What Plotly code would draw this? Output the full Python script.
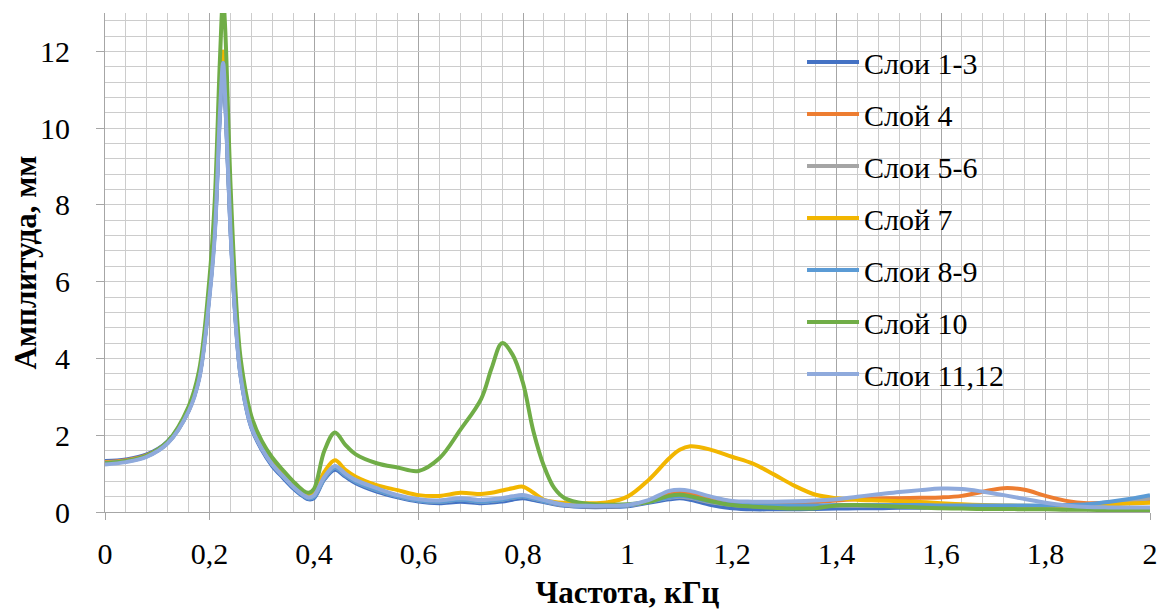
import plotly.graph_objects as go

freq = [0, 0.04, 0.08, 0.12, 0.16, 0.18, 0.2, 0.21, 0.22, 0.226, 0.23, 0.24, 0.25, 0.26,
        0.28, 0.3, 0.32, 0.34, 0.36, 0.38, 0.39, 0.4,
        0.42, 0.44, 0.46, 0.48, 0.52, 0.56, 0.6, 0.64, 0.68, 0.72, 0.74, 0.76, 0.78, 0.8,
        0.82, 0.84, 0.86, 0.88, 0.92, 0.96, 1.0, 1.04,
        1.08, 1.1, 1.12, 1.16, 1.2, 1.24, 1.28, 1.32, 1.36, 1.4, 1.44, 1.48, 1.52, 1.56,
        1.6, 1.64, 1.68, 1.72, 1.76, 1.8, 1.84, 1.88, 1.92, 1.96, 2.0]

s_1_3 = [1.33, 1.37, 1.5, 1.84, 2.66, 3.5, 5.7, 7.3, 10.4, 11.6, 10.8, 7.4, 5.0, 3.5, 2.2, 1.62, 1.2, 0.9, 0.62, 0.4, 0.33, 0.36,
         0.85, 1.1, 0.92, 0.75, 0.53, 0.38, 0.27, 0.23, 0.27, 0.23, 0.25, 0.27, 0.32, 0.36, 0.31, 0.26, 0.2, 0.16, 0.13, 0.13, 0.15, 0.24,
         0.33, 0.36, 0.32, 0.18, 0.1, 0.07, 0.07, 0.07, 0.08, 0.09, 0.1, 0.1, 0.11, 0.11, 0.12, 0.12, 0.12, 0.13, 0.14, 0.15, 0.17, 0.2, 0.25, 0.3, 0.35]
s_4 = [1.3, 1.35, 1.48, 1.82, 2.65, 3.5, 5.75, 7.4, 10.6, 11.8, 11.0, 7.6, 5.1, 3.6, 2.3, 1.7, 1.27, 0.97, 0.68, 0.45, 0.38, 0.42,
       0.9, 1.18, 0.98, 0.8, 0.58, 0.42, 0.31, 0.28, 0.33, 0.28, 0.3, 0.33, 0.38, 0.42, 0.36, 0.29, 0.22, 0.18, 0.15, 0.15, 0.17, 0.28,
       0.46, 0.5, 0.47, 0.36, 0.27, 0.24, 0.23, 0.24, 0.26, 0.3, 0.33, 0.35, 0.36, 0.37, 0.38, 0.42, 0.53, 0.62, 0.58, 0.42, 0.29, 0.23, 0.24, 0.27, 0.31]
s_5_6 = [1.28, 1.33, 1.46, 1.8, 2.64, 3.5, 5.75, 7.4, 10.6, 11.7, 10.9, 7.5, 5.05, 3.55, 2.25, 1.67, 1.25, 0.95, 0.66, 0.43, 0.36, 0.4,
         0.88, 1.15, 0.96, 0.79, 0.57, 0.41, 0.3, 0.27, 0.32, 0.27, 0.29, 0.32, 0.37, 0.41, 0.35, 0.28, 0.22, 0.18, 0.15, 0.15, 0.17, 0.27,
         0.37, 0.4, 0.37, 0.25, 0.18, 0.16, 0.15, 0.15, 0.15, 0.16, 0.16, 0.16, 0.16, 0.16, 0.15, 0.15, 0.15, 0.15, 0.15, 0.15, 0.16, 0.18, 0.22, 0.28, 0.35]
s_7 = [1.28, 1.33, 1.46, 1.81, 2.66, 3.55, 5.8, 7.5, 10.8, 12.0, 11.3, 7.9, 5.3, 3.7, 2.38, 1.76, 1.33, 1.03, 0.74, 0.5, 0.45, 0.5,
       1.05, 1.35, 1.1, 0.92, 0.7, 0.57, 0.44, 0.42, 0.5, 0.47, 0.5, 0.56, 0.62, 0.66, 0.5, 0.32, 0.26, 0.24, 0.23, 0.25, 0.4, 0.83,
       1.4, 1.62, 1.71, 1.62, 1.44, 1.26, 0.98, 0.68, 0.45, 0.36, 0.32, 0.3, 0.28, 0.26, 0.23, 0.2, 0.18, 0.17, 0.16, 0.16, 0.17, 0.18, 0.2, 0.22, 0.24]
s_8_9 = [1.27, 1.32, 1.45, 1.8, 2.64, 3.5, 5.7, 7.35, 10.5, 11.7, 10.9, 7.5, 5.05, 3.55, 2.25, 1.67, 1.24, 0.94, 0.65, 0.42, 0.35, 0.39,
         0.88, 1.15, 0.96, 0.79, 0.57, 0.41, 0.3, 0.27, 0.32, 0.27, 0.29, 0.32, 0.37, 0.41, 0.35, 0.28, 0.22, 0.18, 0.15, 0.15, 0.17, 0.26,
         0.38, 0.42, 0.39, 0.27, 0.2, 0.18, 0.17, 0.17, 0.17, 0.18, 0.18, 0.18, 0.18, 0.18, 0.17, 0.17, 0.17, 0.17, 0.17, 0.17, 0.18, 0.2, 0.26, 0.34, 0.44]
s_10 = [1.27, 1.33, 1.47, 1.84, 2.75, 3.68, 6.1, 8.1, 11.8, 13.4, 12.6, 8.6, 5.7, 3.95, 2.5, 1.85, 1.42, 1.1, 0.8, 0.55, 0.5, 0.6,
        1.6, 2.07, 1.75, 1.5, 1.27, 1.16, 1.07, 1.4, 2.14, 2.95, 3.75, 4.4, 4.1, 3.36, 2.1, 1.2, 0.62, 0.36, 0.22, 0.19, 0.2, 0.26,
        0.42, 0.45, 0.41, 0.28, 0.18, 0.14, 0.11, 0.09, 0.1, 0.17, 0.18, 0.16, 0.14, 0.12, 0.1, 0.09, 0.08, 0.08, 0.07, 0.07, 0.06, 0.06, 0.05, 0.05, 0.05]
s_11_12 = [1.24, 1.3, 1.44, 1.79, 2.62, 3.45, 5.6, 7.2, 10.4, 11.7, 10.8, 7.4, 4.95, 3.5, 2.22, 1.65, 1.24, 0.94, 0.66, 0.44, 0.38, 0.43,
           0.92, 1.2, 1.0, 0.83, 0.62, 0.44, 0.33, 0.3, 0.36, 0.31, 0.33, 0.36, 0.41, 0.44, 0.38, 0.31, 0.24, 0.19, 0.16, 0.16, 0.18, 0.31,
           0.55, 0.58, 0.55, 0.4, 0.29, 0.27, 0.27, 0.28, 0.3, 0.33, 0.4, 0.46, 0.52, 0.57, 0.61, 0.6, 0.53, 0.44, 0.34, 0.24, 0.17, 0.13, 0.12, 0.12, 0.12]

names = ["Слои 1-3", "Слой 4", "Слои 5-6", "Слой 7", "Слои 8-9", "Слой 10", "Слои 11,12"]
series = [s_1_3, s_4, s_5_6, s_7, s_8_9, s_10, s_11_12]
colors = ["#4472C4", "#ED7D31", "#A5A5A5", "#F2B600", "#5B9BD5", "#70AD47", "#8FAADC"]

x_ticks = [0, 0.2, 0.4, 0.6, 0.8, 1.0, 1.2, 1.4, 1.6, 1.8, 2.0]
x_tick_labels = ["0", "0,2", "0,4", "0,6", "0,8", "1", "1,2", "1,4", "1,6", "1,8", "2"]
y_ticks = [0, 2, 4, 6, 8, 10, 12]

FONT = "Liberation Serif"
TICK_SIZE = 30
TITLE_SIZE = 31

fig = go.Figure()
for i, (nm, ys, col) in enumerate(zip(names, series, colors)):
    fig.add_trace(go.Scatter(
        x=freq, y=ys, name=nm, mode="lines",
        line=dict(color=col, width=4, shape="spline", smoothing=1.0),
        legendgroup=f"g{i}",
    ))

# page body has an 8px margin, so the figure is sized to fit the 1170x610 window
fig.update_layout(
    width=1162, height=602,
    margin=dict(l=97, r=20, t=5, b=98),
    paper_bgcolor="white", plot_bgcolor="white",
    font=dict(family=FONT, size=TICK_SIZE, color="black"),
    showlegend=True,
    legend=dict(
        x=0.667, y=0.954, xanchor="left", yanchor="top",
        bgcolor="rgba(0,0,0,0)", borderwidth=0,
        font=dict(family=FONT, size=TICK_SIZE, color="black"),
        tracegroupgap=10, itemwidth=52,
    ),
)

fig.update_xaxes(
    range=[0, 2], tickvals=x_ticks, ticktext=x_tick_labels,
    automargin=False,
    showgrid=True, gridcolor="#a6a6a6", gridwidth=1,
    minor=dict(dtick=0.04, showgrid=True, gridcolor="#cccccc", gridwidth=1),
    showline=True, linecolor="#a6a6a6", linewidth=1,
    ticks="outside", ticklen=7, tickcolor="#a6a6a6",
    ticklabelstandoff=8,
    zeroline=False,
    tickfont=dict(family=FONT, size=TICK_SIZE),
    title=dict(text="<b>Частота, кГц</b>", font=dict(family=FONT, size=TITLE_SIZE), standoff=18),
)
fig.update_yaxes(
    range=[0, 13], tickvals=y_ticks,
    automargin=False,
    showgrid=True, gridcolor="#cccccc", gridwidth=1,
    minor=dict(dtick=0.4, showgrid=True, gridcolor="#cccccc", gridwidth=1),
    showline=True, linecolor="#a6a6a6", linewidth=1,
    ticks="outside", ticklen=8, tickcolor="#a6a6a6",
    ticklabelstandoff=20,
    zeroline=False,
    tickfont=dict(family=FONT, size=TICK_SIZE),
    title=dict(text="<b>Амплитуда, мм</b>", font=dict(family=FONT, size=TITLE_SIZE), standoff=14),
)

fig.write_html("out.html")
